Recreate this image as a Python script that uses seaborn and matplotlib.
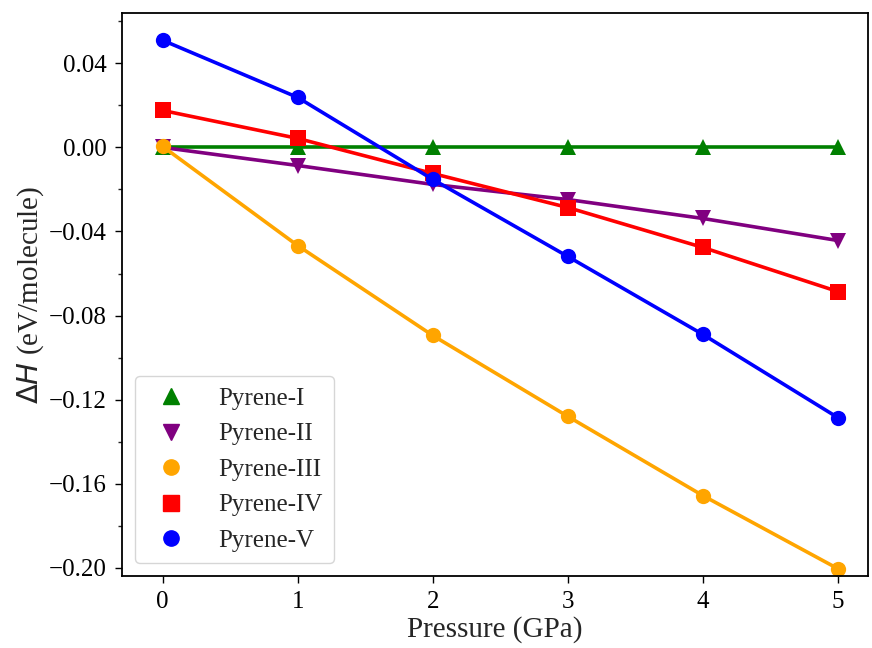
import matplotlib
matplotlib.use("Agg")
import matplotlib.pyplot as plt
from matplotlib.lines import Line2D
from matplotlib.ticker import MultipleLocator, FuncFormatter
import numpy as np
import pandas as pd
import seaborn as sns

# Enthalpy difference of pyrene polymorphs versus pressure
pressure = [0, 1, 2, 3, 4, 5]
pyrene_i = [0.0, 0.0, 0.0, 0.0, 0.0, 0.0]
pyrene_ii = [0.0, -0.0086, -0.0176, -0.0248, -0.0338, -0.0443]
pyrene_iii = [0.0005, -0.0467, -0.0895, -0.128, -0.1657, -0.2005]
pyrene_iv = [0.0176, 0.0043, -0.0124, -0.0286, -0.0476, -0.0686]
pyrene_v = [0.051, 0.0238, -0.0152, -0.0519, -0.089, -0.1286]

names = ["Pyrene-I", "Pyrene-II", "Pyrene-III", "Pyrene-IV", "Pyrene-V"]
series = [pyrene_i, pyrene_ii, pyrene_iii, pyrene_iv, pyrene_v]
colors = ["green", "purple", "orange", "red", "blue"]
markers = ["^", "v", "o", "s", "o"]

sns.set_style("ticks")
plt.rcParams["font.family"] = ["Liberation Serif", "DejaVu Serif"]
plt.rcParams["mathtext.fontset"] = "dejavusans"
plt.rcParams["axes.unicode_minus"] = True

fig = plt.figure(figsize=(8.72, 6.48), dpi=100)
ax = fig.add_axes([0.14, 0.111, 0.855, 0.869])

for name, vals, c, m in zip(names, series, colors, markers):
    df = pd.DataFrame({"Pressure": pressure, "dH": vals})
    sns.lineplot(data=df, x="Pressure", y="dH", ax=ax, color=c, marker=m,
                 markersize=11, markeredgewidth=0, linewidth=2.6, legend=False)


def fmt(v, _):
    v = round(v, 2)
    if abs(v) < 1e-9:
        v = 0.0
    return f"{v:.2f}".replace("-", "\u2212")


ax.set_xlim(-0.3, 5.22)
ax.set_ylim(-0.204, 0.064)
ax.set_xticks(pressure)
ax.yaxis.set_major_locator(MultipleLocator(0.04))
ax.yaxis.set_minor_locator(MultipleLocator(0.02))
ax.yaxis.set_major_formatter(FuncFormatter(fmt))
ax.tick_params(axis="both", which="major", labelsize=18, length=5, width=1,
               pad=6, colors="black")
ax.tick_params(axis="y", which="minor", length=3, width=1)
for s in ax.spines.values():
    s.set_linewidth(1.3)
    s.set_color("black")

ax.set_xlabel("Pressure (GPa)", fontsize=21, labelpad=2)
ax.set_ylabel(r"$\Delta H$ (eV/molecule)", fontsize=21, labelpad=2)

handles = [Line2D([], [], linestyle="none", marker=m, color=c, markersize=11)
           for c, m in zip(colors, markers)]
leg = ax.legend(handles, names, loc="lower left", fontsize=18, frameon=True,
                handletextpad=0.9, labelspacing=0.52, borderpad=0.45,
                bbox_to_anchor=(0.0, 0.001))

fig.savefig("out.png", dpi=100)
